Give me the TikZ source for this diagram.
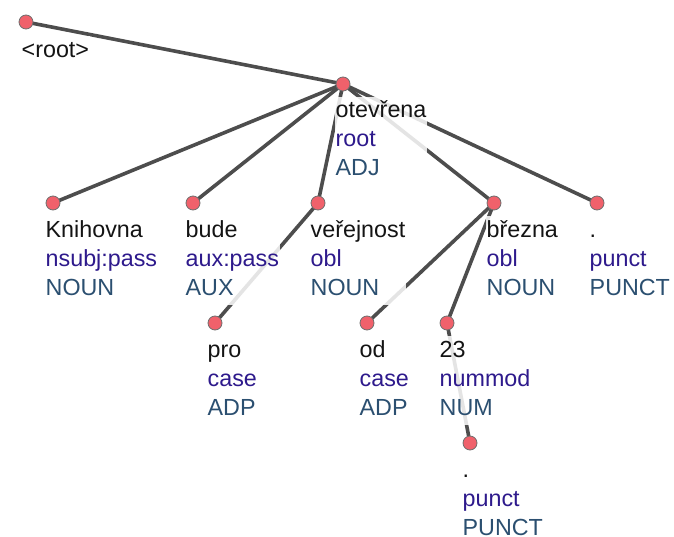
\documentclass[tikz,border=0pt]{standalone}
\usepackage{fontspec}
\setmainfont{Liberation Sans}
\definecolor{wordcol}{HTML}{141414}
\definecolor{deprel}{HTML}{2E1A8C}
\definecolor{upos}{HTML}{2B4F70}
\definecolor{nodefill}{HTML}{F0616B}
\definecolor{nodeline}{HTML}{6E6E6E}
\definecolor{edgecol}{HTML}{4D4D4D}
\pgfdeclarelayer{edgelayer}
\pgfdeclarelayer{labellayer}
\pgfsetlayers{edgelayer,labellayer,main}
% three-line token label: form, relation, part of speech
\newcommand\tokenlines[3]{\strut #1\\\strut\textcolor{deprel}{#2}\\\strut\textcolor{upos}{#3}}
\tikzset{
  tok/.style={circle, draw=nodeline, line width=0.8pt, fill=nodefill,
    minimum size=14pt, inner sep=0pt},
  lbl/.style={anchor=north west, align=left, inner sep=1pt, fill=white,
    fill opacity=0.85, text opacity=1, text=wordcol,
    font=\fontsize{23.3}{29}\selectfont, xshift=-8.5pt, yshift=-12.5pt},
  rootlbl/.style={lbl, xshift=3pt, yshift=-1.5pt},
  dep/.style={draw=edgecol, line width=3.6pt},
}
\begin{document}
\begin{tikzpicture}[x=1pt,y=-1pt]
\useasboundingbox (0,0) rectangle (674,537);
% token circles
\node[tok] (root) at (26,22) {};
\node[tok] (ote)  at (343,84) {};
\node[tok] (kni)  at (53,203) {};
\node[tok] (bud)  at (193,203) {};
\node[tok] (ver)  at (318,203) {};
\node[tok] (bre)  at (494,203) {};
\node[tok] (pun)  at (597,203) {};
\node[tok] (pro)  at (215,323) {};
\node[tok] (od)   at (367,323) {};
\node[tok] (num)  at (447,323) {};
\node[tok] (pun2) at (470,443) {};
% dependency edges
\begin{pgfonlayer}{edgelayer}
\draw[dep] (root.center) -- (ote.center);
\draw[dep] (ote.center) -- (kni.center);
\draw[dep] (ote.center) -- (bud.center);
\draw[dep] (ote.center) -- (ver.center);
\draw[dep] (ote.center) -- (bre.center);
\draw[dep] (ote.center) -- (pun.center);
\draw[dep] (ver.center) -- (pro.center);
\draw[dep] (bre.center) -- (od.center);
\draw[dep] (bre.center) -- (num.center);
\draw[dep] (num.center) -- (pun2.center);
\end{pgfonlayer}
% labels
\begin{pgfonlayer}{labellayer}
\node[rootlbl] (rootL) at (root) {\strut <root>};
\node[lbl] (oteL) at (ote) {\tokenlines{otevřena}{root}{ADJ}};
\node[lbl] (kniL) at (kni) {\tokenlines{Knihovna}{nsubj:pass}{NOUN}};
\node[lbl] (budL) at (bud) {\tokenlines{bude}{aux:pass}{AUX}};
\node[lbl] (verL) at (ver) {\tokenlines{veřejnost}{obl}{NOUN}};
\node[lbl] (breL) at (bre) {\tokenlines{března}{obl}{NOUN}};
\node[lbl] (punL) at (pun) {\tokenlines{.}{punct}{PUNCT}};
\node[lbl] (proL) at (pro) {\tokenlines{pro}{case}{ADP}};
\node[lbl] (odL)  at (od)  {\tokenlines{od}{case}{ADP}};
\node[lbl] (numL) at (num) {\tokenlines{23}{nummod}{NUM}};
\node[lbl] (pun2L) at (pun2) {\tokenlines{.}{punct}{PUNCT}};
\end{pgfonlayer}
\end{tikzpicture}
\end{document}
